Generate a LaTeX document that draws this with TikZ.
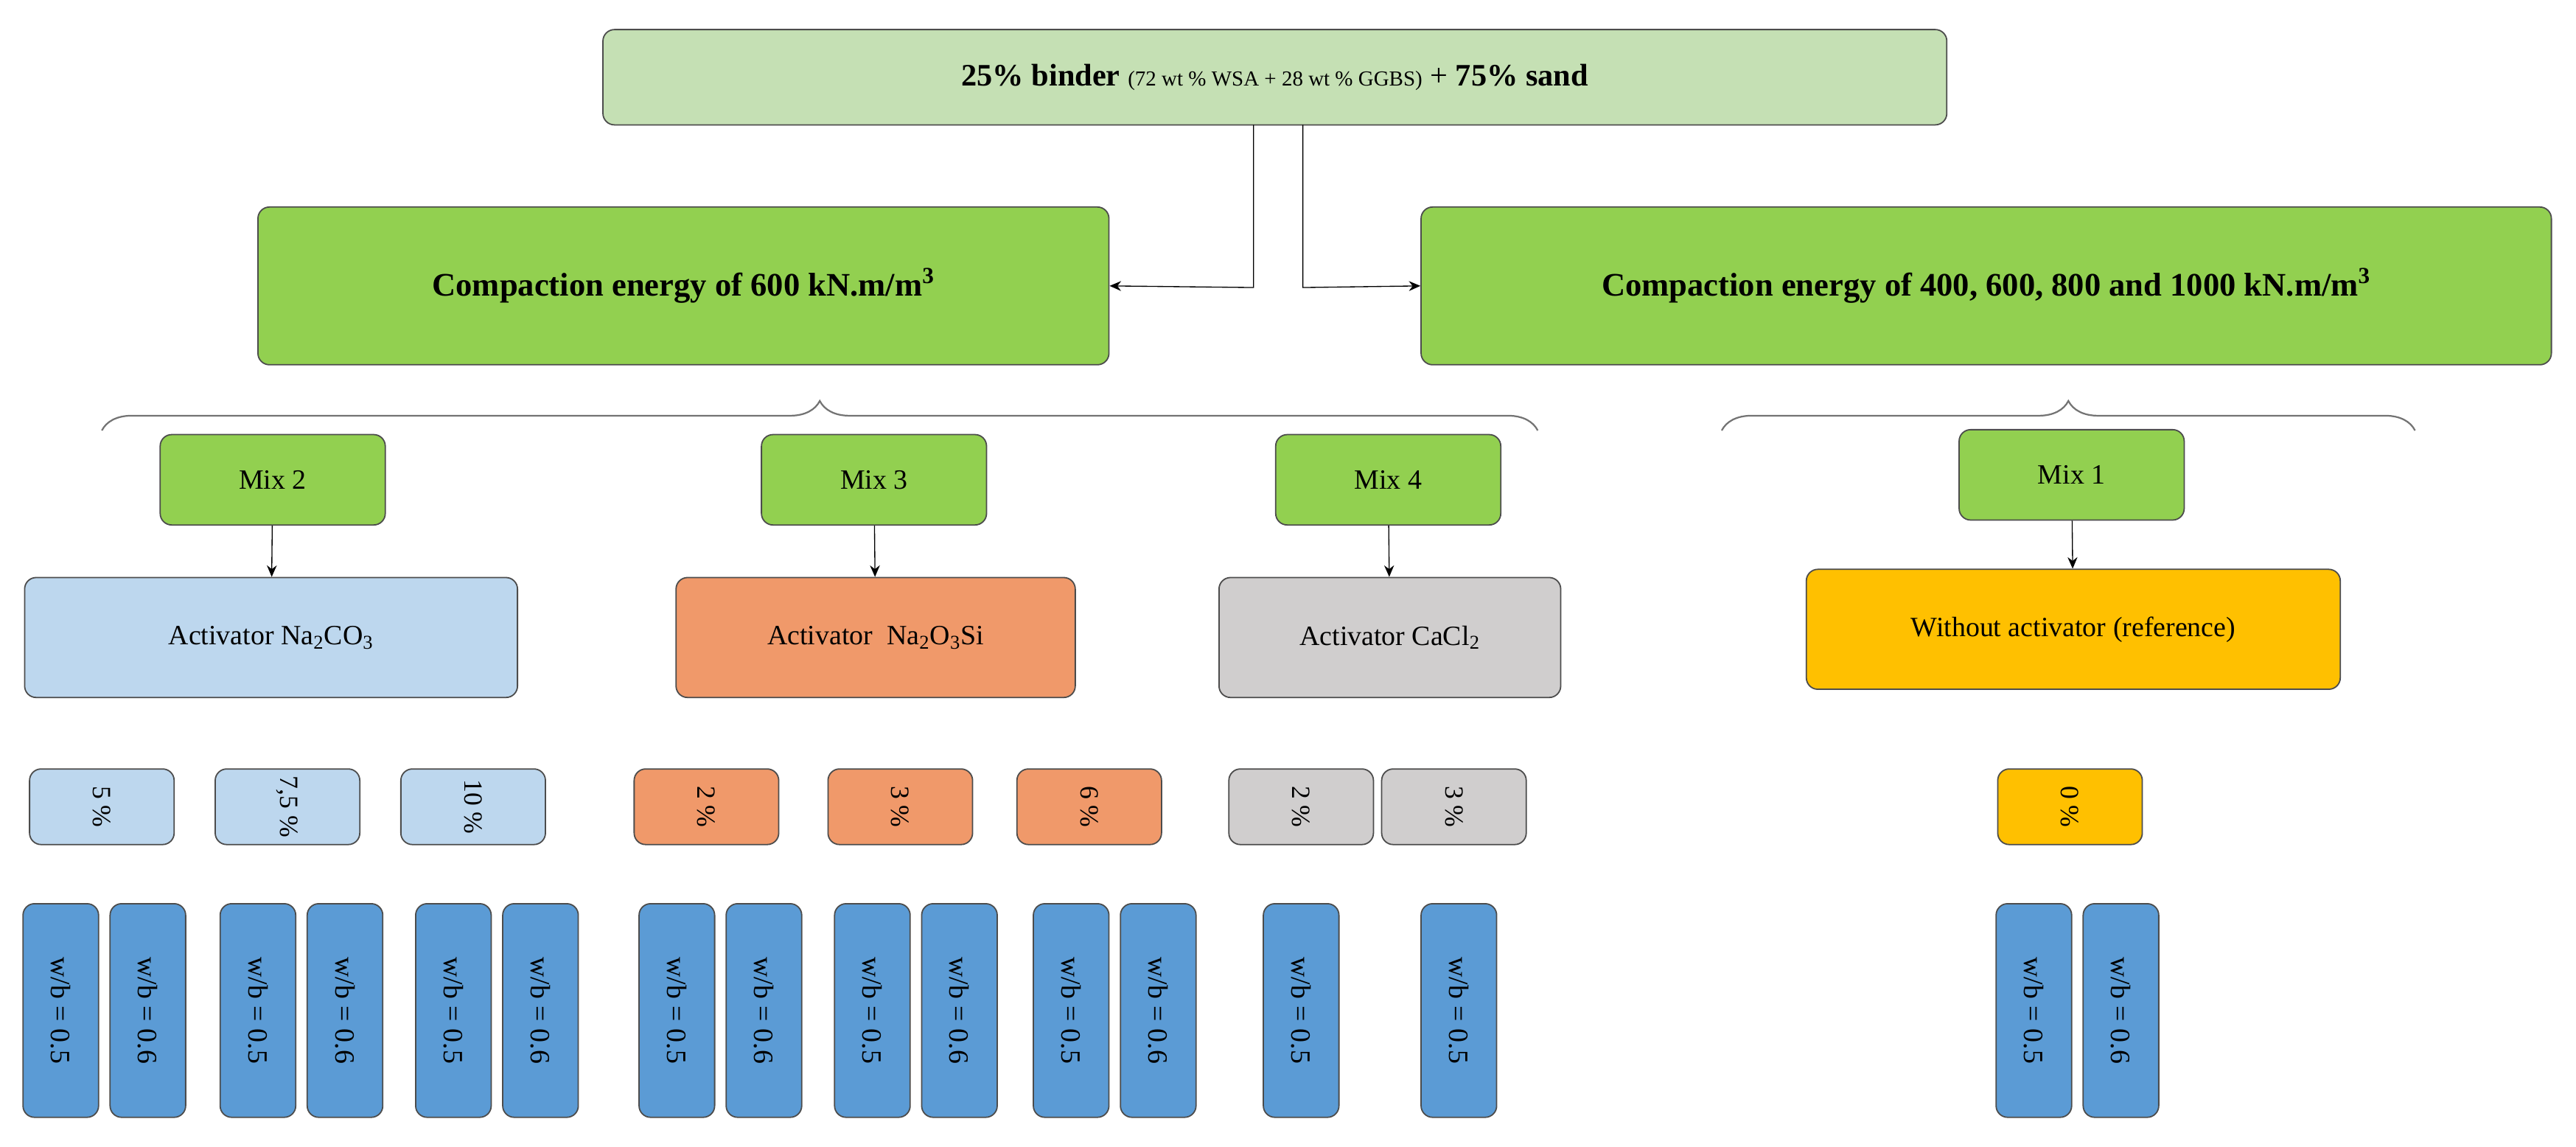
\documentclass[tikz,border=0pt]{standalone}
\usepackage{fontspec}
\setmainfont{Liberation Serif}
\usetikzlibrary{decorations.pathreplacing,arrows.meta}
\definecolor{lgreen}{HTML}{C5E0B4}
\definecolor{mgreen}{HTML}{92D050}
\definecolor{lblue}{HTML}{BDD7EE}
\definecolor{orng}{HTML}{F0996A}
\definecolor{lgray}{HTML}{D0CECE}
\definecolor{yel}{HTML}{FFC000}
\definecolor{blu}{HTML}{5B9BD5}
\tikzset{
 bx/.style={draw=black!70,line width=0.8pt,rounded corners=7pt,inner sep=0pt,align=center,font=\fontsize{17}{20}\selectfont},
 pct/.style={bx,minimum width=46pt,minimum height=88pt,rotate=-90,font=\fontsize{16}{18}\selectfont},
 wb/.style={bx,fill=blu,minimum width=130pt,minimum height=46pt,rotate=-90,font=\fontsize{17}{20}\selectfont},
 arr/.style={-{Stealth[length=7pt,width=6pt]},line width=0.6pt},
 br/.style={decorate,decoration={brace,amplitude=18pt},draw=black!55,line width=1pt}
}
\begin{document}
\begin{tikzpicture}[x=1pt,y=-1pt]
\useasboundingbox (0,0) rectangle (1568,698);
\node[bx,fill=lgreen,minimum width=818pt,minimum height=58pt] (top) at (776,47) {\fontsize{19}{22}\selectfont\textbf{25\% binder} {\fontsize{13}{15}\selectfont(72 wt \% WSA + 28 wt \% GGBS)} + \textbf{75\% sand}};
\node[bx,fill=mgreen,minimum width=518pt,minimum height=96pt,font=\fontsize{20}{24}\selectfont\bfseries] (c1) at (416,174) {Compaction energy of 600 kN.m/m\textsuperscript{3}};
\node[bx,fill=mgreen,minimum width=688pt,minimum height=96pt,font=\fontsize{20}{24}\selectfont\bfseries] (c2) at (1209,174) {Compaction energy of 400, 600, 800 and 1000 kN.m/m\textsuperscript{3}};
\coordinate (t1) at (763,76); \coordinate (k1) at (763,175);
\coordinate (t2) at (793,76); \coordinate (k2) at (793,175);
\draw[arr] (t1) -- (k1) -- (c1.east);
\draw[arr] (t2) -- (k2) -- (c2.west);
\coordinate (b1a) at (62,262); \coordinate (b1b) at (936,262);
\coordinate (b2a) at (1048,262); \coordinate (b2b) at (1470,262);
\draw[br] (b1a) -- (b1b);
\draw[br] (b2a) -- (b2b);
\foreach \n/\t/\x/\y in {m2/Mix 2/166/292,m3/Mix 3/532/292,m4/Mix 4/845/292,m1/Mix 1/1261/289}
  \node[bx,fill=mgreen,minimum width=137pt,minimum height=55pt] (\n) at (\x,\y) {\t};
\node[bx,fill=lblue,minimum width=300pt,minimum height=73pt] (a2) at (165,388) {Activator Na\textsubscript{2}CO\textsubscript{3}};
\node[bx,fill=orng,minimum width=243pt,minimum height=73pt] (a3) at (533,388) {Activator\ \ Na\textsubscript{2}O\textsubscript{3}Si};
\node[bx,fill=lgray,minimum width=208pt,minimum height=73pt] (a4) at (846,388) {Activator CaCl\textsubscript{2}};
\node[bx,fill=yel,minimum width=325pt,minimum height=73pt] (a1) at (1262,383) {Without activator (reference)};
\foreach \a/\b in {m2/a2,m3/a3,m4/a4,m1/a1} \draw[arr] (\a) -- (\b);
\foreach \n/\t/\x/\c in {p1/5 \%/62/lblue,p2/{7,5 \%}/175/lblue,p3/10 \%/288/lblue,p4/2 \%/430/orng,p5/3 \%/548/orng,p6/6 \%/663/orng,p7/2 \%/792/lgray,p8/3 \%/885/lgray,p9/0 \%/1260/yel}
  \node[pct,fill=\c] (\n) at (\x,491) {\t};
\foreach \n/\t/\x in {w1/0.5/37,w2/0.6/90,w3/0.5/157,w4/0.6/210,w5/0.5/276,w6/0.6/329,w7/0.5/412,w8/0.6/465,w9/0.5/531,w10/0.6/584,w11/0.5/652,w12/0.6/705,w13/0.5/792,w14/0.5/888,w15/0.5/1238,w16/0.6/1291}
  \node[wb] (\n) at (\x,615) {w/b = \t};
\end{tikzpicture}
\end{document}
